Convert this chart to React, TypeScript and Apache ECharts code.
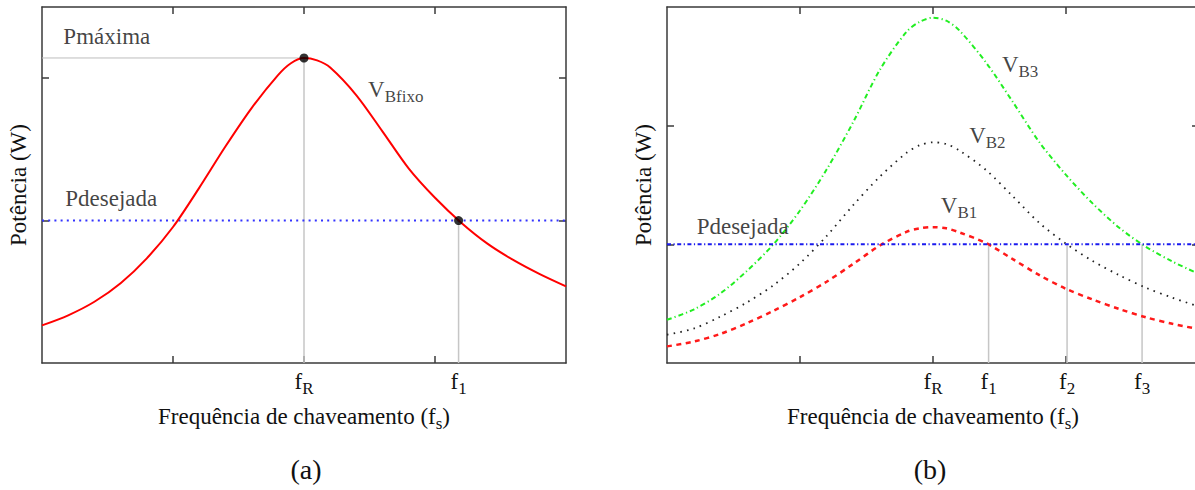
import React, { useEffect, useRef } from 'react';
import * as echarts from 'echarts';

const SERIF = "'Liberation Serif', 'Times New Roman', serif";
const INK = '#111111';

// ---------- Panel (a): fixed bus voltage ----------
const aFreq = [0, 0.2, 0.4, 0.6, 0.8, 1.0, 1.2, 1.4, 1.6, 1.8, 1.9, 2.0, 2.1, 2.2, 2.4, 2.6, 2.8, 3.0, 3.2, 3.4, 3.6, 3.8, 4.0];
const aPower = [0.264, 0.335, 0.43, 0.56, 0.735, 0.955, 1.23, 1.52, 1.79, 2.02, 2.105, 2.142, 2.125, 2.075, 1.88, 1.625, 1.365, 1.16, 0.985, 0.838, 0.722, 0.624, 0.538];
const aFR = 2;
const aF1 = 3.18;
const aPmax = 2.142;
const aPdes = 1.0;
const aTickVals = [aFR, aF1];
const aTickSubs = ['R', '1'];

// ---------- Panel (b): three bus voltages ----------
const bFreq = [0, 0.2, 0.4, 0.6, 0.8, 1.0, 1.2, 1.4, 1.6, 1.8, 1.9, 2.0, 2.1, 2.2, 2.4, 2.6, 2.8, 3.0, 3.2, 3.4, 3.6, 3.8, 4.0];
const bVB3 = [0.364, 0.45, 0.585, 0.775, 1.0, 1.285, 1.63, 2.03, 2.47, 2.79, 2.875, 2.91, 2.885, 2.8, 2.53, 2.2, 1.86, 1.585, 1.345, 1.14, 0.98, 0.855, 0.75];
const bVB2 = [0.238, 0.29, 0.39, 0.51, 0.655, 0.84, 1.07, 1.33, 1.57, 1.77, 1.835, 1.86, 1.845, 1.79, 1.625, 1.405, 1.18, 1.005, 0.86, 0.74, 0.635, 0.55, 0.475];
const bVB1 = [0.14, 0.18, 0.245, 0.335, 0.44, 0.555, 0.685, 0.835, 0.99, 1.105, 1.135, 1.145, 1.135, 1.1, 1.01, 0.875, 0.74, 0.625, 0.535, 0.455, 0.385, 0.33, 0.285];
const bPdes = 1.0;
const bFR = 2;
const bF1 = 2.418;
const bF2 = 3.008;
const bF3 = 3.572;
const bTickVals = [bFR, bF1, bF2, bF3];
const bTickSubs = ['R', '1', '2', '3'];

// annotation texts (positions are layout, in axis units)
const aNotes = [
  { text: 'Pmáxima', at: [0.163, 2.29] },
  { text: 'Pdesejada', at: [0.178, 1.155] },
  { text: '{m|V}{s|Bfixo}', at: [2.489, 1.918] },
];
const bNotes = [
  { text: 'Pdesejada', at: [0.223, 1.153] },
  { text: '{m|V}{s|B3}', at: [2.518, 2.518] },
  { text: '{m|V}{s|B2}', at: [2.272, 1.916] },
  { text: '{m|V}{s|B1}', at: [2.059, 1.327] },
];

const zip = (xs: number[], ys: number[]) => xs.map((x, i) => [x, ys[i]]);

const rich = {
  m: { fontSize: 23, fontFamily: SERIF, color: INK, lineHeight: 24 },
  s: { fontSize: 17, fontFamily: SERIF, color: INK, lineHeight: 10, padding: [14, 0, 0, 0] },
};

const AXIS_COLOR = '#3a3a3a';
const lineStyleAxis = { color: AXIS_COLOR, width: 1.5 };

function xAxes(gridIndex: number, vals: number[], subs: string[]) {
  return [
    {
      gridIndex,
      type: 'value',
      position: 'bottom',
      min: 0,
      max: 4,
      interval: 1,
      axisLine: { show: true, onZero: false, lineStyle: lineStyleAxis },
      axisTick: { show: true, inside: true, length: 7, lineStyle: lineStyleAxis, customValues: [1, 2, 3] },
      axisLabel: {
        show: true,
        customValues: vals,
        margin: 6,
        formatter: (v: number) => {
          const i = vals.findIndex((t) => Math.abs(t - v) < 1e-6);
          return i < 0 ? '' : `{m|f}{s|${subs[i]}}`;
        },
        rich,
      },
      splitLine: { show: false },
      name: 'Frequência de chaveamento (f{s|s})',
      nameLocation: 'middle',
      nameGap: 39,
      nameTextStyle: { fontSize: 23, fontFamily: SERIF, color: INK, lineHeight: 24, rich },
    },
    {
      gridIndex,
      type: 'value',
      position: 'top',
      min: 0,
      max: 4,
      interval: 1,
      axisLine: { show: true, onZero: false, lineStyle: lineStyleAxis },
      axisTick: { show: true, inside: true, length: 7, lineStyle: lineStyleAxis, customValues: [1, 2, 3] },
      axisLabel: { show: false },
      splitLine: { show: false },
    },
  ];
}

function yAxes(gridIndex: number, max: number, ticks: number[], gap: number) {
  return [
    {
      gridIndex,
      type: 'value',
      position: 'left',
      min: 0,
      max,
      interval: 1,
      axisLine: { show: true, onZero: false, lineStyle: lineStyleAxis },
      axisTick: { show: true, inside: true, length: 7, lineStyle: lineStyleAxis, customValues: ticks },
      axisLabel: { show: false },
      splitLine: { show: false },
      name: 'Potência (W)',
      nameLocation: 'middle',
      nameGap: gap,
      nameTextStyle: { fontSize: 23, fontFamily: SERIF, color: INK, lineHeight: 24 },
    },
    {
      gridIndex,
      type: 'value',
      position: 'right',
      min: 0,
      max,
      interval: 1,
      axisLine: { show: true, onZero: false, lineStyle: lineStyleAxis },
      axisTick: { show: true, inside: true, length: 7, lineStyle: lineStyleAxis, customValues: ticks },
      axisLabel: { show: false },
      splitLine: { show: false },
    },
  ];
}

const plainLine = (xi: number, yi: number, data: number[][], color: string, width: number, type: any, z = 2) => ({
  type: 'line',
  xAxisIndex: xi,
  yAxisIndex: yi,
  data,
  symbol: 'none',
  silent: true,
  z,
  lineStyle: { color, width, type },
});

const curve = (xi: number, yi: number, data: number[][], color: string, width: number, type: any, z = 3) => ({
  type: 'line',
  xAxisIndex: xi,
  yAxisIndex: yi,
  data,
  smooth: 0.3,
  symbol: 'none',
  silent: true,
  z,
  lineStyle: { color, width, type, cap: 'butt' },
});

const notes = (xi: number, yi: number, list: { text: string; at: number[] }[]) => ({
  type: 'scatter',
  xAxisIndex: xi,
  yAxisIndex: yi,
  symbolSize: 0,
  silent: true,
  z: 10,
  data: list.map((n) => ({ value: n.at, label: { formatter: n.text } })),
  label: {
    show: true,
    position: 'inside',
    align: 'left',
    verticalAlign: 'middle',
    fontSize: 23,
    fontFamily: SERIF,
    color: INK,
    lineHeight: 24,
    rich,
  },
});

export default function App() {
  const ref = useRef<HTMLDivElement>(null);
  useEffect(() => {
    if (!ref.current) return;
    const chart = echarts.init(ref.current, undefined, { renderer: 'svg' });
    const option: any = {
      animation: false,
      backgroundColor: '#ffffff',
      grid: [
        { left: 42, top: 7, width: 524, height: 356, containLabel: false, outerBoundsMode: 'none' },
        { left: 667, top: 7, width: 532, height: 356, containLabel: false, outerBoundsMode: 'none' },
      ],
      xAxis: [...xAxes(0, aTickVals, aTickSubs), ...xAxes(1, bTickVals, bTickSubs)],
      yAxis: [...yAxes(0, 2.5, [1, 2], 12), ...yAxes(1, 3, [1, 2], 12)],
      series: [
        // panel (a)
        plainLine(0, 0, [[0, aPmax], [aFR, aPmax]], '#bdbdbd', 1, 'solid'),
        plainLine(0, 0, [[aFR, 0], [aFR, aPmax]], '#c6c6c6', 1.5, 'solid'),
        plainLine(0, 0, [[aF1, 0], [aF1, aPdes]], '#c6c6c6', 1.5, 'solid'),
        plainLine(0, 0, [[0, aPdes], [4, aPdes]], '#3333ff', 2, [2, 4.2]),
        curve(0, 0, zip(aFreq, aPower), '#ff0000', 2, 'solid', 4),
        {
          type: 'scatter',
          xAxisIndex: 0,
          yAxisIndex: 0,
          symbolSize: 9,
          silent: true,
          z: 6,
          itemStyle: { color: '#000000' },
          data: [[aFR, aPmax], [aF1, aPdes]],
        },
        notes(0, 0, aNotes),
        // panel (b)
        plainLine(2, 2, [[bF1, 0], [bF1, bPdes]], '#c6c6c6', 1.5, 'solid'),
        plainLine(2, 2, [[bF2, 0], [bF2, bPdes]], '#c6c6c6', 1.5, 'solid'),
        plainLine(2, 2, [[bF3, 0], [bF3, bPdes]], '#c6c6c6', 1.5, 'solid'),
        curve(2, 2, zip(bFreq, bVB1), '#ff1a1a', 2.5, [5, 4.5]),
        curve(2, 2, zip(bFreq, bVB2), '#222222', 1.8, [1.6, 5.2]),
        curve(2, 2, zip(bFreq, bVB3), '#22ee22', 2, [5, 3, 1.2, 3]),
        plainLine(2, 2, [[0, bPdes], [4, bPdes]], '#1a1aee', 2, [4, 2.5, 1.2, 2.5], 5),
        notes(2, 2, bNotes),
      ],
      graphic: [
        {
          type: 'text',
          x: 306,
          y: 469,
          silent: true,
          style: { text: '(a)', fontSize: 28, fontFamily: SERIF, fill: INK, textAlign: 'center', textVerticalAlign: 'middle' },
        },
        {
          type: 'text',
          x: 930,
          y: 469,
          silent: true,
          style: { text: '(b)', fontSize: 28, fontFamily: SERIF, fill: INK, textAlign: 'center', textVerticalAlign: 'middle' },
        },
      ],
    };
    chart.setOption(option);
    return () => chart.dispose();
  }, []);
  return (
    <div
      ref={ref}
      style={{ position: 'fixed', left: 0, top: 0, width: 1195, height: 490, background: '#fff' }}
    />
  );
}
